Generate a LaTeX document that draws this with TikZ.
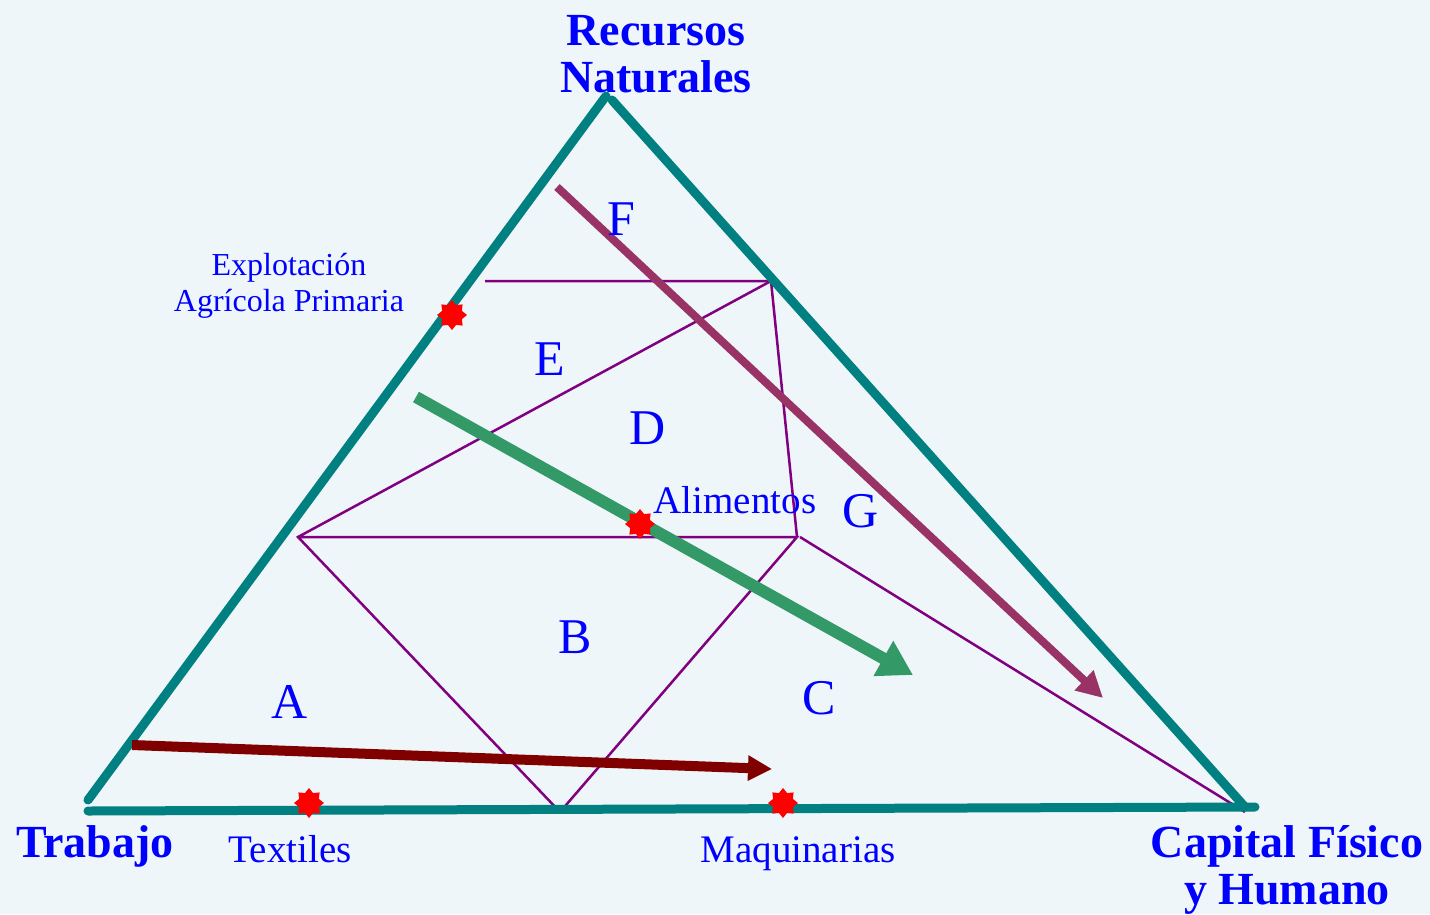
\documentclass[tikz,border=0pt]{standalone}
\usepackage{fontspec}
\setmainfont{Liberation Serif}
\usetikzlibrary{arrows.meta,shapes.geometric}
\definecolor{bg}{HTML}{EEF6FA}
\definecolor{tealc}{HTML}{008080}
\definecolor{purp}{HTML}{800080}
\definecolor{maroonc}{HTML}{800000}
\definecolor{greenc}{HTML}{339966}
\definecolor{plumc}{HTML}{993366}
\definecolor{txtblue}{HTML}{0000FF}
\tikzset{
  side/.style={draw=tealc,line width=9pt,line cap=round},
  thin/.style={draw=purp,line width=2.5pt,line join=miter},
  big/.style={text=txtblue,font=\bfseries\fontsize{46}{47}\selectfont,align=center,anchor=base,inner sep=0pt},
  lab/.style={text=txtblue,font=\fontsize{39}{40}\selectfont,anchor=base,inner sep=0pt},
  small/.style={text=txtblue,font=\fontsize{32}{36}\selectfont,align=center,anchor=base,inner sep=0pt},
  region/.style={text=txtblue,font=\fontsize{50}{50}\selectfont,anchor=base,inner sep=0pt},
  dot/.style={star,star points=8,star point ratio=1.4,fill=red,draw=none,minimum size=30pt,inner sep=0pt},
}
\begin{document}
\begin{tikzpicture}[x=1pt,y=-1pt]
\fill[bg] (0,0) rectangle (1430,914);
\useasboundingbox (0,0) rectangle (1430,914);
% triangle corners
\coordinate (L1) at (88,800);
\coordinate (T1) at (606,96);
\coordinate (T2) at (612,100);
\coordinate (R1) at (1245,807);
\coordinate (L2) at (88,811);
\coordinate (R2) at (1255,807);
% inner points
\coordinate (p1) at (485,281);
\coordinate (p2) at (771,281);
\coordinate (p3) at (298,537);
\coordinate (p4) at (797,537);
\coordinate (p5) at (560,812);
\coordinate (p6) at (800,537);
\coordinate (p7) at (1245,812);
% purple region lines
\draw[thin] (p1) -- (p2) -- (p4);
\draw[thin] (p2) -- (p3) -- (p5) -- (p4) -- (p3);
\draw[thin] (p6) -- (p7);
% triangle
\draw[side] (L1) -- (T1);
\draw[side] (T2) -- (R1);
\draw[side] (L2) -- (R2);
% arrows
\coordinate (m1) at (132,745);
\coordinate (m2) at (772,769);
\coordinate (g1) at (416,397);
\coordinate (g2) at (913,675);
\coordinate (q1) at (557,187);
\coordinate (q2) at (1103,698);
\draw[draw=maroonc,line width=10pt,-{Triangle[length=24pt,width=24pt]}] (m1) -- (m2);
\draw[draw=greenc,fill=greenc,line width=12pt,-{Triangle[length=34pt,width=38pt]}] (g1) -- (g2);
\draw[draw=plumc,line width=8pt,-{Triangle[length=26pt,width=26pt]}] (q1) -- (q2);
% stars
\node[dot] (s1) at (452,315) {};
\node[dot] (s2) at (640,524) {};
\node[dot] (s3) at (309,803) {};
\node[dot] (s4) at (783,803) {};
% labels
\node[big] (rn) at (656,92) {Recursos\\Naturales};
\node[big] (tr) at (95,857) {Trabajo};
\node[big] (cf) at (1287,904) {Capital Físico\\y Humano};
\node[small] (ea) at (289,311) {Explotación\\Agrícola Primaria};
\node[lab] (tx) at (290,862) {Textiles};
\node[lab] (mq) at (798,862) {Maquinarias};
\node[lab] (al) at (735,513) {Alimentos};
\node[region] (rF) at (621,235) {F};
\node[region] (rE) at (550,375) {E};
\node[region] (rD) at (648,444) {D};
\node[region] (rG) at (861,527) {G};
\node[region] (rB) at (575,653) {B};
\node[region] (rA) at (290,718) {A};
\node[region] (rC) at (819,714) {C};
\end{tikzpicture}
\end{document}
